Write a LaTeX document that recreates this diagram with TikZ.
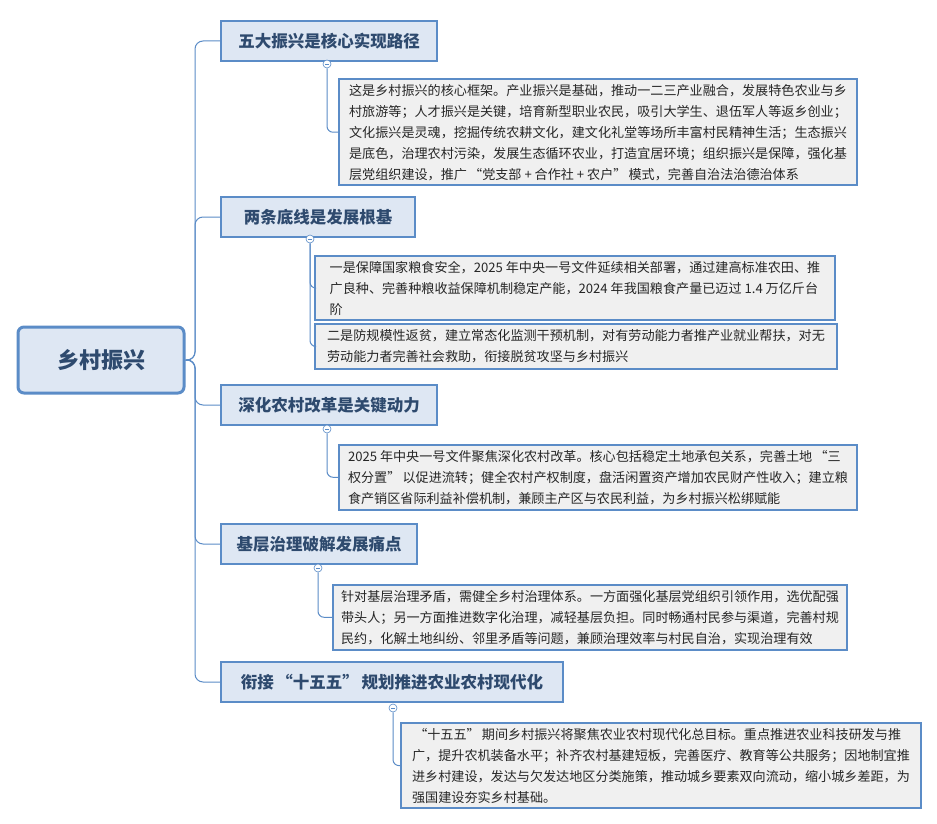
\documentclass[tikz,border=0pt]{standalone}
\usepackage{fontspec}
\setmainfont{Noto Sans CJK SC}
\begin{document}
\begin{tikzpicture}[x=1pt,y=-1pt,
  ln/.style={draw=lineblue,line width=1pt},
  rootbox/.style={draw=boxblue,line width=3pt,fill=rootfill,rounded corners=6pt,minimum width=166pt,minimum height=66pt,font=\fontsize{22}{26}\selectfont\bfseries,text=txtblue},
  brbox/.style={draw=boxblue,line width=2pt,fill=rootfill,anchor=north west,inner xsep=12pt,minimum height=40pt,font=\fontsize{16.5}{20}\selectfont\bfseries,text=txtblue},
  leaf/.style={draw=boxblue,line width=2pt,fill=leaffill,anchor=north west,align=left,inner xsep=8pt,inner ysep=5pt,font=\fontsize{13.1}{21}\selectfont,text=black!85},
  tog/.style={circle,draw=lineblue,fill=white,inner sep=0pt,minimum size=8pt,line width=0.6pt,path picture={\draw[lineblue,line width=0.6pt] ([xshift=-2pt]path picture bounding box.center)--([xshift=2pt]path picture bounding box.center);}}]
\definecolor{lineblue}{HTML}{5B8CC7}
\definecolor{boxblue}{HTML}{5B8CC7}
\definecolor{rootfill}{HTML}{DEE7F3}
\definecolor{leaffill}{HTML}{F0F0F0}
\definecolor{txtblue}{HTML}{2E4A6E}
\useasboundingbox (0,0) rectangle (937,824);
\fill[white] (0,0) rectangle (937,824);
\node[rootbox] (root) at (101,360) {乡村振兴};
\node[brbox,minimum width=216pt] (b1) at (220,20) {五大振兴是核心实现路径};
\node[brbox,minimum width=194pt] (b2) at (220,196) {两条底线是发展根基};
\node[brbox,minimum width=216pt] (b3) at (220,384) {深化农村改革是关键动力};
\node[brbox,minimum width=196pt] (b4) at (220,523) {基层治理破解发展痛点};
\node[brbox,minimum width=342pt] (b5) at (220,661) {衔接\,“十五五”\,规划推进农业农村现代化};
\coordinate (sp) at (195,360);
\foreach \b in {b1,b2,b3,b4,b5}{\draw[ln,rounded corners=8pt] (root.east) -- (sp) |- (\b.west);}
% leaves
\node[leaf,minimum width=518pt,minimum height=102pt] (k1) at (338,78) {这是乡村振兴的核心框架。产业振兴是基础，推动一二三产业融合，发展特色农业与乡\\村旅游等；人才振兴是关键，培育新型职业农民，吸引大学生、退伍军人等返乡创业；\\文化振兴是灵魂，挖掘传统农耕文化，建文化礼堂等场所丰富村民精神生活；生态振兴\\是底色，治理农村污染，发展生态循环农业，打造宜居环境；组织振兴是保障，强化基\\层党组织建设，推广\,“党支部 + 合作社 + 农户”\,模式，完善自治法治德治体系};
\node[leaf,minimum width=520pt,minimum height=63pt] (k2) at (314,255) {一是保障国家粮食安全，2025 年中央一号文件延续相关部署，通过建高标准农田、推\\广良种、完善种粮收益保障机制稳定产能，2024 年我国粮食产量已迈过 1.4 万亿斤台\\阶};
\node[leaf,minimum width=522pt,minimum height=45pt] (k3) at (314,323) {二是防规模性返贫，建立常态化监测干预机制，对有劳动能力者推产业就业帮扶，对无\\劳动能力者完善社会救助，衔接脱贫攻坚与乡村振兴};
\node[leaf,minimum width=518pt,minimum height=64pt] (k4) at (338,444) {2025 年中央一号文件聚焦深化农村改革。核心包括稳定土地承包关系，完善土地\,“三\\权分置”\,以促进流转；健全农村产权制度，盘活闲置资产增加农民财产性收入；建立粮\\食产销区省际利益补偿机制，兼顾主产区与农民利益，为乡村振兴松绑赋能};
\node[leaf,minimum width=514pt,minimum height=62pt] (k5) at (332,584) {针对基层治理矛盾，需健全乡村治理体系。一方面强化基层党组织引领作用，选优配强\\带头人；另一方面推进数字化治理，减轻基层负担。同时畅通村民参与渠道，完善村规\\民约，化解土地纠纷、邻里矛盾等问题，兼顾治理效率与村民自治，实现治理有效};
\node[leaf,minimum width=520pt,minimum height=84pt] (k6) at (400,722) {\,“十五五”\,期间乡村振兴将聚焦农业农村现代化总目标。重点推进农业科技研发与推\\广，提升农机装备水平；补齐农村基建短板，完善医疗、教育等公共服务；因地制宜推\\进乡村建设，发达与欠发达地区分类施策，推动城乡要素双向流动，缩小城乡差距，为\\强国建设夯实乡村基础。};
% toggles
\node[tog] (t1) at (327,64) {};
\node[tog] (t2) at (310,239) {};
\node[tog] (t3) at (327,429) {};
\node[tog] (t4) at (318,568) {};
\node[tog] (t5) at (393,708) {};
\draw[ln,rounded corners=6pt] (t1.south) |- (k1.west);
\draw[ln,rounded corners=6pt] (t2.south) |- (k2.west);
\draw[ln,rounded corners=6pt] (t2.south) |- (k3.west);
\draw[ln,rounded corners=6pt] (t3.south) |- (k4.west);
\draw[ln,rounded corners=6pt] (t4.south) |- (k5.west);
\draw[ln,rounded corners=6pt] (t5.south) |- (k6.west);
\end{tikzpicture}
\end{document}
